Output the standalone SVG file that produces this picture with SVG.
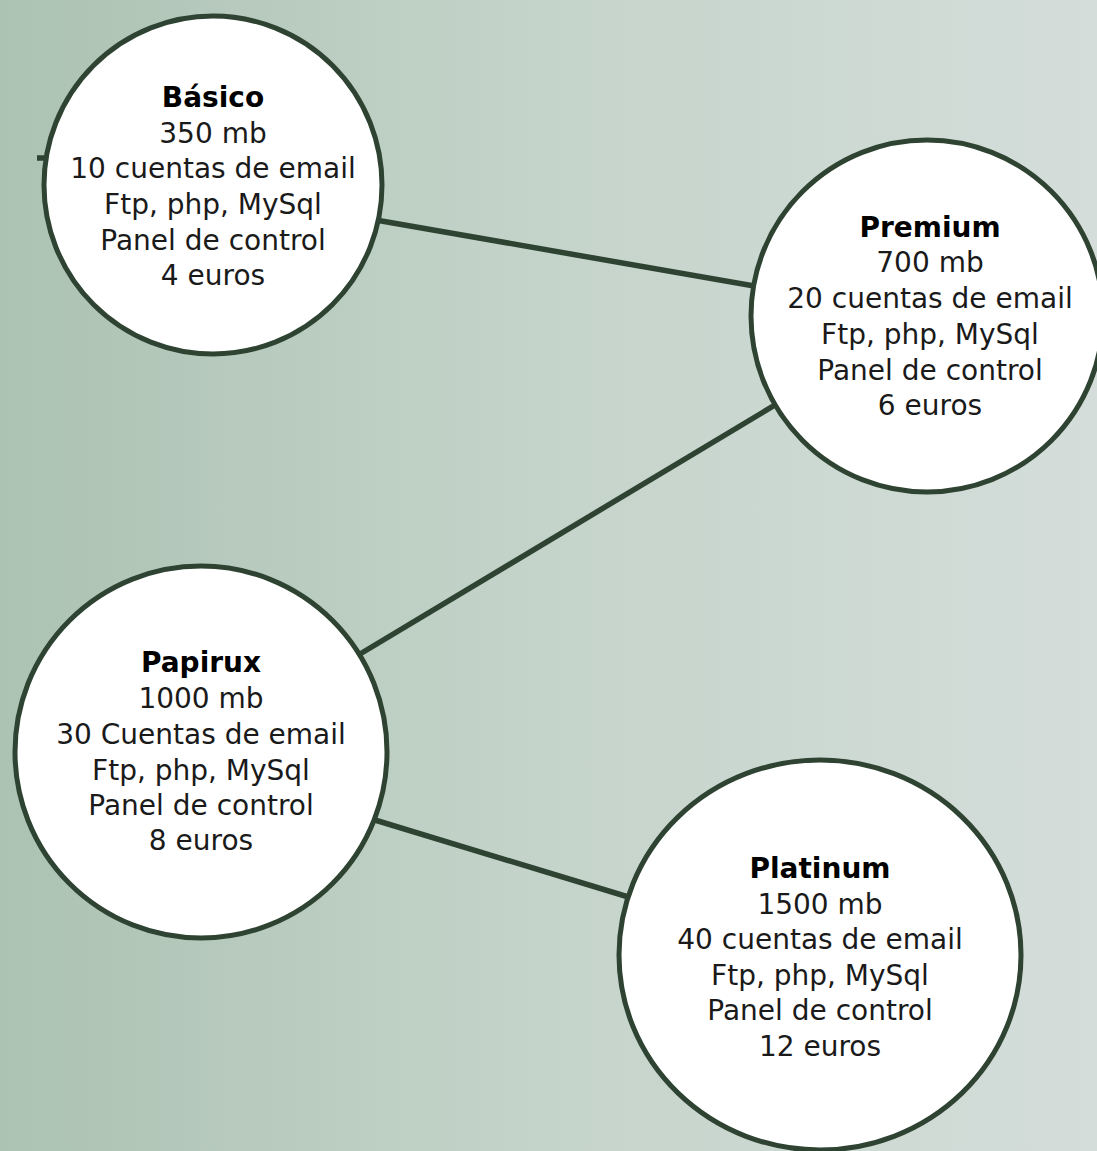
<svg xmlns="http://www.w3.org/2000/svg" width="1097" height="1151" viewBox="0 0 1097 1151">
  <defs>
    <linearGradient id="bg" x1="0" y1="0" x2="1" y2="0">
      <stop offset="0" stop-color="#acc2b2"/>
      <stop offset="0.5" stop-color="#c5d4cb"/>
      <stop offset="1" stop-color="#d4ddda"/>
    </linearGradient>
  </defs>
  <style>
    .node { fill: #ffffff; stroke: #2f4332; stroke-width: 5; }
    .edge { stroke: #2f4332; stroke-width: 5.5; fill: none; }
    text { font-family: "DejaVu Sans", "Liberation Sans", sans-serif; font-size: 28px; fill: #1a1a1a; text-anchor: middle; }
    .title { font-weight: bold; fill: #000000; }
  </style>
  <rect x="0" y="0" width="1097" height="1151" fill="url(#bg)"/>
  <g id="connectors">
    <line class="edge" x1="37" y1="158" x2="50" y2="158"/>
    <line class="edge" x1="370" y1="219" x2="760" y2="287"/>
    <line class="edge" x1="780" y1="402" x2="350" y2="660"/>
    <line class="edge" x1="365" y1="817" x2="635" y2="899"/>
  </g>
  <g id="basico">
    <circle class="node" cx="213" cy="185" r="169"/>
    <text x="213" y="107" class="title">Básico</text>
    <text x="213" y="143">350 mb</text>
    <text x="213" y="178">10 cuentas de email</text>
    <text x="213" y="214">Ftp, php, MySql</text>
    <text x="213" y="250">Panel de control</text>
    <text x="213" y="285">4 euros</text>
  </g>
  <g id="premium">
    <circle class="node" cx="927" cy="316" r="176"/>
    <text x="930" y="237" class="title">Premium</text>
    <text x="930" y="272">700 mb</text>
    <text x="930" y="308">20 cuentas de email</text>
    <text x="930" y="344">Ftp, php, MySql</text>
    <text x="930" y="380">Panel de control</text>
    <text x="930" y="415">6 euros</text>
  </g>
  <g id="papirux">
    <circle class="node" cx="201" cy="752" r="186"/>
    <text x="201" y="672" class="title">Papirux</text>
    <text x="201" y="708">1000 mb</text>
    <text x="201" y="744">30 Cuentas de email</text>
    <text x="201" y="780">Ftp, php, MySql</text>
    <text x="201" y="815">Panel de control</text>
    <text x="201" y="850">8 euros</text>
  </g>
  <g id="platinum">
    <ellipse class="node" cx="820" cy="955" rx="201" ry="195"/>
    <text x="820" y="878" class="title">Platinum</text>
    <text x="820" y="914">1500 mb</text>
    <text x="820" y="949">40 cuentas de email</text>
    <text x="820" y="985">Ftp, php, MySql</text>
    <text x="820" y="1020">Panel de control</text>
    <text x="820" y="1056">12 euros</text>
  </g>
</svg>
